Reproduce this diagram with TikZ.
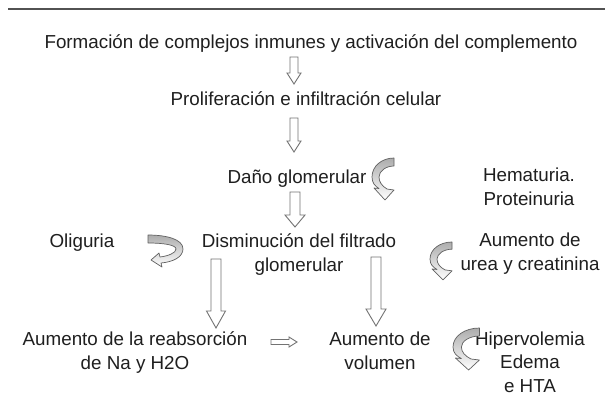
\documentclass[tikz,border=0pt]{standalone}
\usepackage{fontspec}
\setmainfont{Liberation Sans}
\newcommand\blkdown[6]{% x, ytop, ybot, shaft half-width, head half-width, head length
  \draw[blk] (#1-#4,#2) -- (#1+#4,#2) -- (#1+#4,#3-#6) -- (#1+#5,#3-#6) -- (#1,#3)
    -- (#1-#5,#3-#6) -- (#1-#4,#3-#6) -- cycle;}
\newcommand\blkright[6]{% y, xleft, xright, shaft half-height, head half-height, head length
  \draw[blk] (#2,#1-#4) -- (#3-#6,#1-#4) -- (#3-#6,#1-#5) -- (#3,#1) -- (#3-#6,#1+#5)
    -- (#3-#6,#1+#4) -- (#2,#1+#4) -- cycle;}
\begin{document}
\begin{tikzpicture}[x=1pt,y=-1pt,
  txt/.style={font=\fontsize{18.8}{23.5}\selectfont, align=center, inner sep=0pt, text=black!88, anchor=base},
  blk/.style={draw=gray!90!black, fill=white, line width=0.9pt, line join=miter},
  cshade/.style={draw=gray!75!black, line width=0.7pt, top color=gray!65, middle color=white, bottom color=white, line join=round},
  carrowC/.pic={\draw[cshade] (22,0) .. controls (10,0) and (0,8) .. (0,19)
      .. controls (0,25) and (3,28) .. (7,30.5) -- (2,30) -- (13,42) -- (22,32) -- (15,31)
      .. controls (10,28) and (7,24) .. (7,19) .. controls (7,13) and (14,8) .. (22,8) -- cycle;},
  carrowD/.pic={\draw[cshade] (0,0) .. controls (18,0) and (35,4) .. (35,14)
      .. controls (35,22) and (25,27) .. (13,28) -- (14,32) -- (3,25) -- (11,18) -- (12,22)
      .. controls (20,21) and (28,18) .. (28,14) .. controls (28,10) and (16,8) .. (0,8) -- cycle;}
]
\useasboundingbox (0,0) rectangle (605,402);
\fill[white] (0,0) rectangle (605,402);
\draw[line width=2.5pt, draw=black!68] (8,9) -- (605,9);

\node[txt] (t1) at (311,48) {Formación de complejos inmunes y activación del complemento};
\node[txt] (t2) at (306,105) {Proliferación e infiltración celular};
\node[txt] (t3) at (297,183) {Daño glomerular};
\node[txt] (t4) at (529,205) {Hematuria.\\Proteinuria};
\node[txt] (t5) at (299,271) {Disminución del filtrado\\glomerular};
\node[txt] (t6) at (82,247) {Oliguria};
\node[txt] (t7) at (530,270) {Aumento de\\urea y creatinina};
\node[txt] (t8) at (135,369) {Aumento de la reabsorción\\de Na y H2O};
\node[txt] (t9) at (380,369) {Aumento de\\volumen};
\node[txt] (t10) at (530,392) {Hipervolemia\\Edema\\e HTA};

\blkdown{294}{57}{84}{4}{7}{11}
\blkdown{294}{118}{152}{4}{7}{11}
\blkdown{295}{192}{227}{5}{10}{12}
\blkdown{216}{259}{328}{5}{9.5}{17}
\blkdown{376}{257}{326}{5}{10}{17}
\blkright{342}{271}{297}{2.5}{5}{8}

\pic at (372,158) {carrowC};
\pic[yscale=0.9] at (430,242) {carrowC};
\pic[xscale=1.2] at (453,328) {carrowC};
\pic at (148,235) {carrowD};
\end{tikzpicture}
\end{document}
